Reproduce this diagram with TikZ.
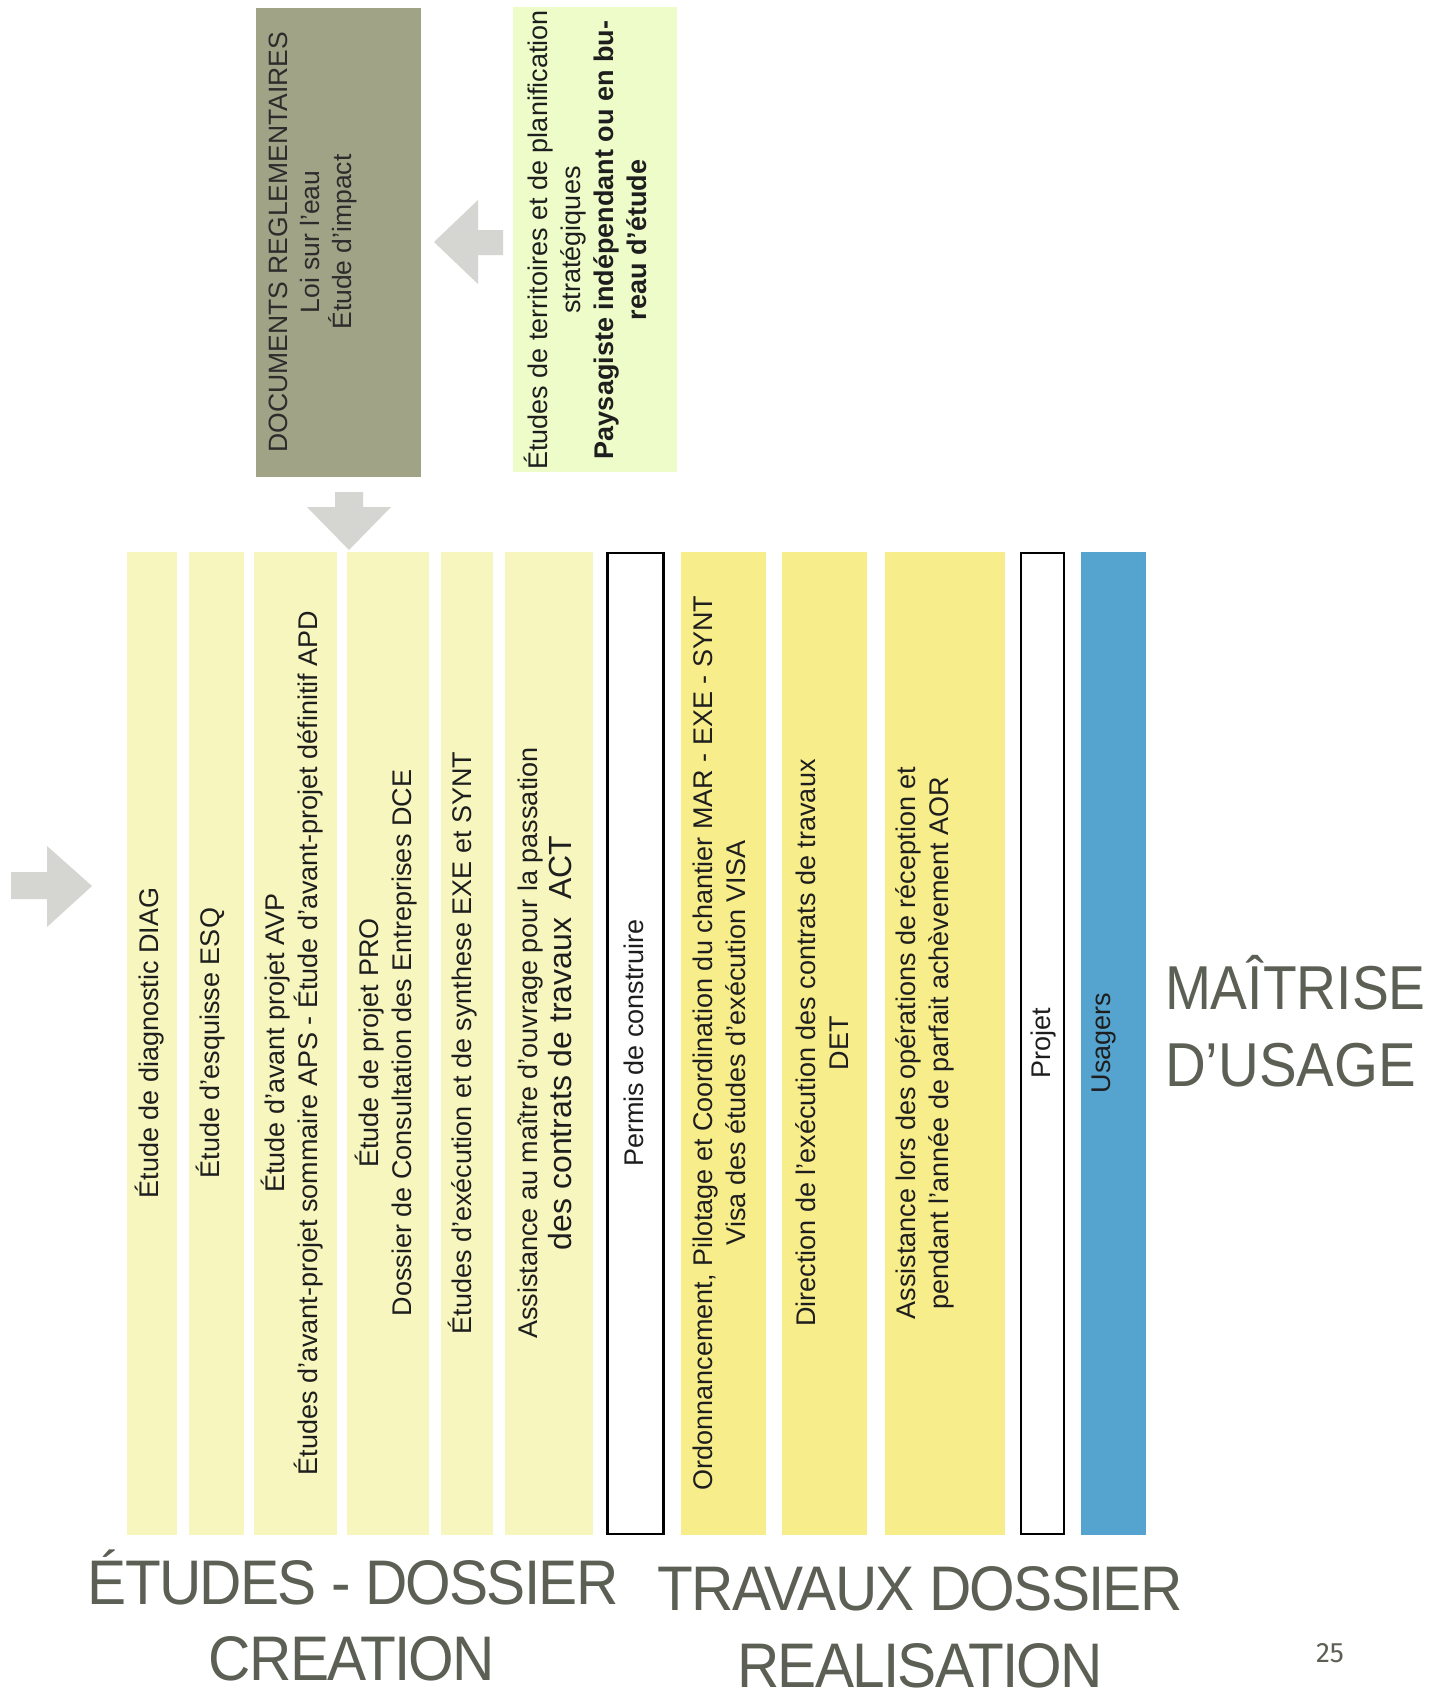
\documentclass[tikz,border=0pt]{standalone}
\usepackage{fontspec}
\newfontfamily\arial{Liberation Sans}
\newfontfamily\titlefont[LetterSpace=-3]{Liberation Sans}
\newfontfamily\pgfont{Fira Sans}
\definecolor{pale}{HTML}{F6F6BE}
\definecolor{sun}{HTML}{F8ED8B}
\definecolor{sky}{HTML}{55A4CF}
\definecolor{olive}{HTML}{A0A386}
\definecolor{mint}{HTML}{EEFCCA}
\definecolor{arrowgray}{HTML}{D5D5D1}
\definecolor{titlecol}{HTML}{5B5F54}
\definecolor{txt}{HTML}{1E1E1E}
\definecolor{doctxt}{HTML}{2C2C2C}
\tikzset{
  every node/.style={inner sep=0pt, outer sep=0pt},
  bar/.style={anchor=north west, minimum height=983pt, draw=none},
  outlinebar/.style={anchor=north west, minimum height=981pt, draw=black, line width=2.5pt, fill=white},
  stext/.style={rotate=90, align=center, text=txt, font=\arial\fontsize{27}{33}\selectfont},
  bigtitle/.style={anchor=base, text=titlecol, font=\titlefont\fontsize{63}{70}\selectfont},
  sidetitle/.style={anchor=base west, text=titlecol, font=\arial\fontsize{62}{70}\selectfont},
  blockarrow/.style={fill=arrowgray, draw=none}
}
\newcommand{\cond}[1]{\scalebox{0.93}[1]{#1}}
\begin{document}
\begin{tikzpicture}[x=1pt,y=-1pt]
\useasboundingbox (0,0) rectangle (1446,1690);
\fill[white] (0,0) rectangle (1446,1690);

% top boxes
\node[anchor=north west, fill=olive, minimum width=165pt, minimum height=469pt] (docs) at (256,8) {};
\node[anchor=north west, fill=mint, minimum width=164pt, minimum height=465pt] (green) at (513,7) {};

\node[rotate=90, align=center, text=doctxt, font=\arial\fontsize{26.5}{32}\selectfont] (docstxt) at (313,242)
  {DOCUMENTS REGLEMENTAIRES\\Loi sur l’eau\\Étude d’impact};
\node[rotate=90, align=center, text=txt, font=\arial\fontsize{27}{33}\selectfont] (greentxt) at (585,240)
  {Études de territoires et de planification\\stratégiques\\\textbf{Paysagiste indépendant ou en bu-}\\\textbf{reau d’étude}};

% strips
\node[bar, fill=pale, minimum width=50pt] (s1) at (127,552) {};
\node[bar, fill=pale, minimum width=55pt] (s2) at (189,552) {};
\node[bar, fill=pale, minimum width=83pt] (s3) at (254,552) {};
\node[bar, fill=pale, minimum width=82pt] (s4) at (347,552) {};
\node[bar, fill=pale, minimum width=52pt] (s5) at (441,552) {};
\node[bar, fill=pale, minimum width=88pt] (s6) at (505,552) {};
\node[outlinebar, minimum width=56pt] (s7) at (607.5,553) {};
\node[bar, fill=sun, minimum width=85pt] (s8) at (681,552) {};
\node[bar, fill=sun, minimum width=85pt] (s9) at (782,552) {};
\node[bar, fill=sun, minimum width=120pt] (s10) at (885,552) {};
\node[outlinebar, minimum width=43pt] (s11) at (1021,553) {};
\node[bar, fill=sky, minimum width=65pt] (s12) at (1081,552) {};

% strip texts
\node[stext] (t1) at (150,1043) {Étude de diagnostic DIAG};
\node[stext] (t2) at (211,1043) {Étude d’esquisse ESQ};
\node[stext] (t3) at (292,1043) {Étude d’avant projet AVP\\Études d’avant-projet sommaire APS - Étude d’avant-projet définitif APD};
\node[stext] (t4) at (386,1043) {Étude de projet PRO\\Dossier de Consultation des Entreprises DCE};
\node[stext] (t5) at (463,1043) {Études d’exécution et de synthese EXE et SYNT};
\node[stext] (t6) at (545,1043) {Assistance au maître d’ouvrage pour la passation\\[1pt]{\fontsize{32}{36}\selectfont des contrats de travaux~~ACT}};
\node[stext] (t7) at (634,1043) {Permis de construire};
\node[stext] (t8) at (719,1043) {Ordonnancement, Pilotage et Coordination du chantier MAR - EXE - SYNT\\Visa des études d’exécution VISA};
\node[stext] (t9) at (822,1043) {Direction de l’exécution des contrats de travaux\\DET};
\node[stext] (t10) at (925,1043) {Assistance lors des opérations de réception et\\pendant l’année de parfait achèvement AOR};
\node[stext] (t11) at (1044,1043) {Projet};
\node[stext] (t12) at (1104,1043) {Usagers};

% arrows
\fill[blockarrow] (503,230) -- (478,230) -- (478,200) -- (434,242) -- (478,284) -- (478,255) -- (503,255) -- cycle;
\fill[blockarrow] (335,492) -- (363,492) -- (363,507) -- (391,507) -- (349,550) -- (307,507) -- (335,507) -- cycle;
\fill[blockarrow] (11,872) -- (47,872) -- (47,846) -- (92,886) -- (47,927) -- (47,899) -- (11,899) -- cycle;

% titles
\node[bigtitle] (et1) at (353,1604) {\cond{ÉTUDES - DOSSIER}};
\node[bigtitle] (et2) at (352,1680) {\cond{CREATION}};
\node[bigtitle] (tr1) at (920,1610) {\cond{TRAVAUX DOSSIER}};
\node[bigtitle] (tr2) at (920,1687) {\cond{REALISATION}};
\node[sidetitle] (mu1) at (1165,1009) {\scalebox{0.89}[1]{MAÎTRISE}};
\node[sidetitle] (mu2) at (1165,1086) {\scalebox{0.91}[1]{D’USAGE}};
\node[anchor=base, text=titlecol, font=\pgfont\fontsize{28}{32}\selectfont] (pg) at (1330,1662) {25};
\end{tikzpicture}
\end{document}
